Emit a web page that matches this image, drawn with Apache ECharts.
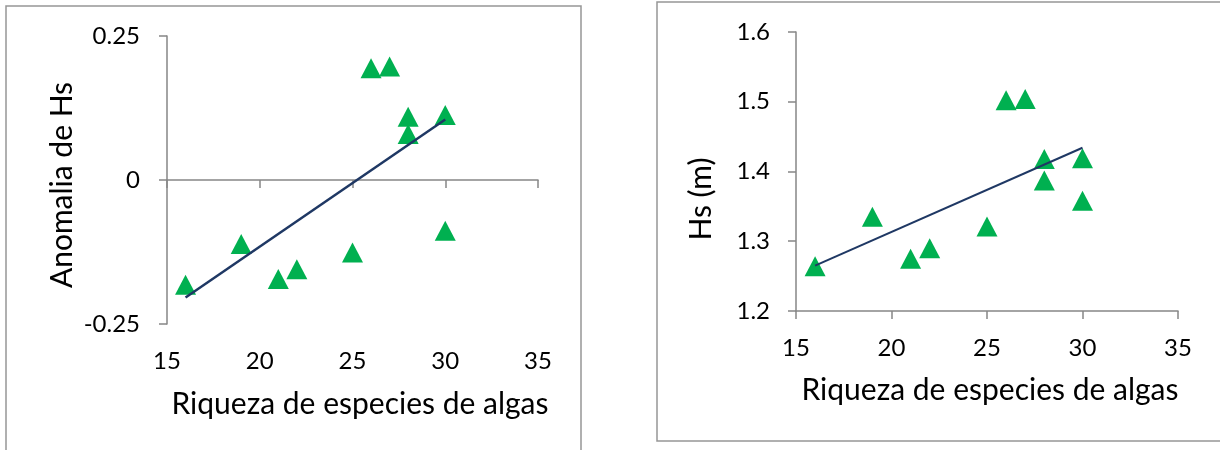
<!DOCTYPE html>
<html>
<head>
<meta charset="utf-8">
<script src="https://cdn.jsdelivr.net/npm/echarts@6/dist/echarts.min.js"></script>
<style>
html,body{margin:0;padding:0;background:#fff;}
#chart{width:1220px;height:450px;}
</style>
</head>
<body>
<div id="chart"></div>
<script>
// Data
const richness = [16, 19, 21, 22, 25, 26, 27, 28, 28, 30, 30];
const anomaly = [-0.182, -0.111, -0.172, -0.155, -0.126, 0.194, 0.197, 0.110, 0.080, 0.113, -0.088];
const hs = [1.264, 1.335, 1.275, 1.290, 1.321, 1.502, 1.504, 1.418, 1.387, 1.419, 1.358];
const trendX = [16, 30];
const anomalyTrend = [-0.204, 0.105];
const hsTrend = [1.265, 1.434];
const xTicks = [15, 20, 25, 30, 35];
const anomalyTicks = [-0.25, 0, 0.25];
const hsTicks = [1.2, 1.3, 1.4, 1.5, 1.6];
const xTitle = 'Riqueza de especies de algas';
const yTitleLeft = 'Anomalia de Hs';
const yTitleRight = 'Hs (m)';

const FONT = 'Lato';
const axisGray = '#868686';
const green = '#00B050';
const navy = '#1F3864';

function pairs(xs, ys) { return xs.map((x, i) => [x, ys[i]]); }
function step(t) { return +(t[1] - t[0]).toFixed(6); }

const labelStyle = { color: '#000', fontFamily: FONT, fontSize: 24 };
const titleFont = '30px ' + FONT;

const chart = echarts.init(document.getElementById('chart'), null, { renderer: 'canvas' });

const option = {
  animation: false,
  backgroundColor: '#fff',
  grid: [
    { left: 167, top: 36, width: 371, height: 288, containLabel: false, outerBoundsMode: 'none' },
    { left: 796, top: 32, width: 382, height: 279, containLabel: false, outerBoundsMode: 'none' }
  ],
  xAxis: [
    { type: 'value', gridIndex: 0, min: xTicks[0], max: xTicks[xTicks.length - 1], interval: step(xTicks),
      position: 'bottom',
      axisLine: { show: false, onZero: false }, axisTick: { show: false }, splitLine: { show: false },
      axisLabel: Object.assign({ margin: 25 }, labelStyle) },
    { type: 'value', gridIndex: 0, min: xTicks[0], max: xTicks[xTicks.length - 1], interval: step(xTicks),
      position: 'bottom',
      axisLine: { show: true, onZero: true, lineStyle: { color: axisGray, width: 1.5 } },
      axisTick: { show: true, inside: false, length: 8, lineStyle: { color: axisGray, width: 1.5 } },
      splitLine: { show: false }, axisLabel: { show: false } },
    { type: 'value', gridIndex: 1, min: xTicks[0], max: xTicks[xTicks.length - 1], interval: step(xTicks),
      position: 'bottom',
      axisLine: { show: true, onZero: false, lineStyle: { color: axisGray, width: 1.5 } },
      axisTick: { show: true, length: 8, lineStyle: { color: axisGray, width: 1.5 } },
      splitLine: { show: false },
      axisLabel: Object.assign({ margin: 25 }, labelStyle) }
  ],
  yAxis: [
    { type: 'value', gridIndex: 0, min: anomalyTicks[0], max: anomalyTicks[anomalyTicks.length - 1], interval: step(anomalyTicks),
      axisLine: { show: true, onZero: false, lineStyle: { color: axisGray, width: 1.5 } },
      axisTick: { show: true, length: 8, lineStyle: { color: axisGray, width: 1.5 } },
      splitLine: { show: false },
      axisLabel: Object.assign({ margin: 27, formatter: v => (Math.abs(v) < 1e-9 ? '0' : String(+v.toFixed(2))) }, labelStyle) },
    { type: 'value', gridIndex: 1, min: hsTicks[0], max: hsTicks[hsTicks.length - 1], interval: step(hsTicks),
      axisLine: { show: true, onZero: false, lineStyle: { color: axisGray, width: 1.5 } },
      axisTick: { show: true, length: 8, lineStyle: { color: axisGray, width: 1.5 } },
      splitLine: { show: false },
      axisLabel: Object.assign({ margin: 26, formatter: v => v.toFixed(1) }, labelStyle) }
  ],
  series: [
    { type: 'scatter', xAxisIndex: 0, yAxisIndex: 0, data: pairs(richness, anomaly),
      symbol: 'triangle', symbolSize: [21, 20], itemStyle: { color: green, opacity: 1 }, z: 2 },
    { type: 'line', xAxisIndex: 0, yAxisIndex: 0, data: pairs(trendX, anomalyTrend),
      showSymbol: false, symbol: 'none', lineStyle: { color: navy, width: 2.5 }, z: 3 },
    { type: 'scatter', xAxisIndex: 2, yAxisIndex: 1, data: pairs(richness, hs),
      symbol: 'triangle', symbolSize: [21, 20], itemStyle: { color: green, opacity: 1 }, z: 2 },
    { type: 'line', xAxisIndex: 2, yAxisIndex: 1, data: pairs(trendX, hsTrend),
      showSymbol: false, symbol: 'none', lineStyle: { color: navy, width: 2 }, z: 3 }
  ],
  graphic: [
    { type: 'rect', shape: { x: 6, y: 6, width: 575, height: 470 }, style: { fill: 'none', stroke: '#969696', lineWidth: 1.5 }, z: 0, silent: true },
    { type: 'rect', shape: { x: 657, y: 2, width: 600, height: 439 }, style: { fill: 'none', stroke: '#969696', lineWidth: 1.5 }, z: 0, silent: true },
    { type: 'text', x: 360, y: 404, style: { text: xTitle, font: titleFont, fill: '#000', textAlign: 'center', textVerticalAlign: 'middle' } },
    { type: 'text', x: 990, y: 390, style: { text: xTitle, font: titleFont, fill: '#000', textAlign: 'center', textVerticalAlign: 'middle' } },
    { type: 'text', x: 62, y: 185, rotation: Math.PI / 2, style: { text: yTitleLeft, font: titleFont, fill: '#000', textAlign: 'center', textVerticalAlign: 'middle' } },
    { type: 'text', x: 701, y: 199, rotation: Math.PI / 2, style: { text: yTitleRight, font: titleFont, fill: '#000', textAlign: 'center', textVerticalAlign: 'middle' } }
  ]
};
chart.setOption(option);
</script>
</body>
</html>
